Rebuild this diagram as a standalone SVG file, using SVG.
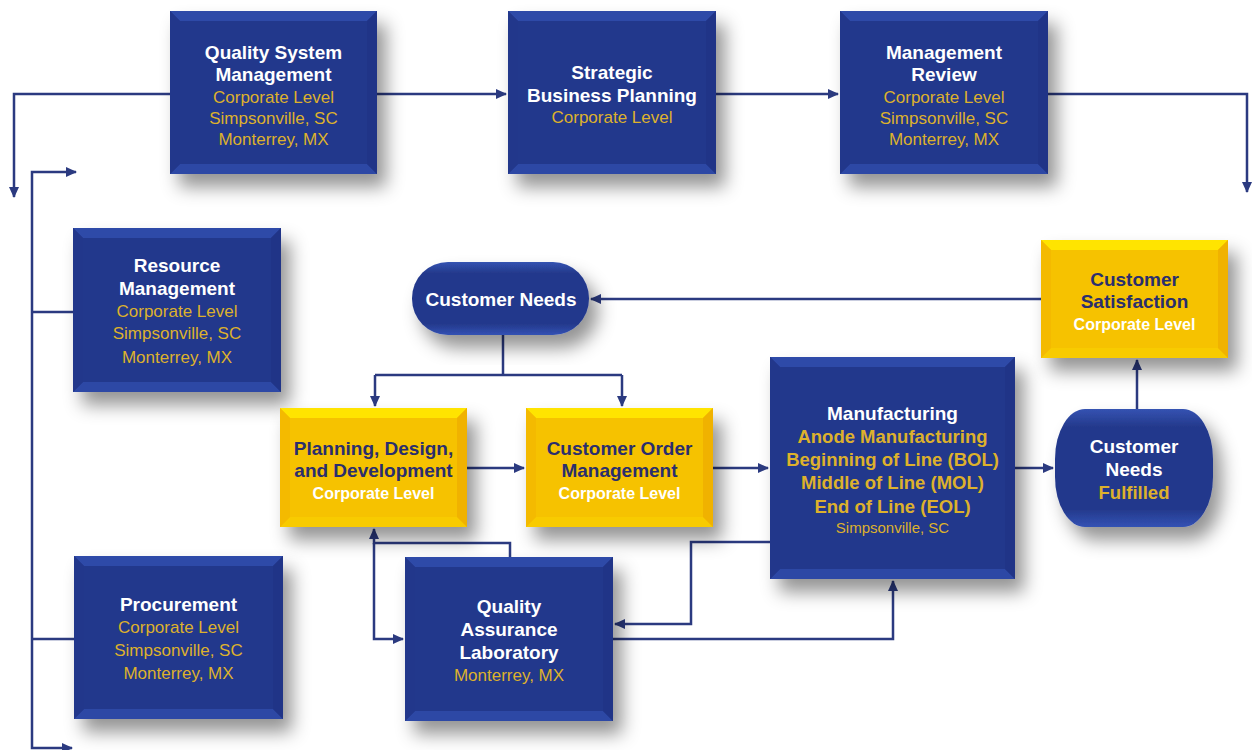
<svg xmlns="http://www.w3.org/2000/svg" width="1252" height="750" viewBox="0 0 1252 750">
<defs>
<filter id="sh" x="-20%" y="-20%" width="150%" height="160%">
<feDropShadow dx="9" dy="13" stdDeviation="9" flood-color="#000" flood-opacity="0.42"/>
</filter>
<linearGradient id="pillg" x1="0" y1="0" x2="0" y2="1">
<stop offset="0" stop-color="#3553B2"/>
<stop offset="0.15" stop-color="#24398C"/>
<stop offset="0.85" stop-color="#24398C"/>
<stop offset="1" stop-color="#3352B4"/>
</linearGradient>
<marker id="ah" markerUnits="userSpaceOnUse" markerWidth="11" markerHeight="10" refX="10" refY="5" orient="auto">
<path d="M0,0 L11,5 L0,10 z" fill="#2B3A80"/>
</marker>
<style>
.b{fill:#24398C}
.y{fill:#F6C200}
.bt{fill:#2E4AA8}.bb{fill:#2D48A5}.bl{fill:#22378B}.br{fill:#203487}
.yt{fill:#FFE400}.yb{fill:#F8CB00}.yl{fill:#F4BA00}.yr{fill:#F0B200}
.pill{fill:url(#pillg)}
text{font-family:"Liberation Sans",Arial,sans-serif;text-anchor:middle}
.t{font-size:19px;font-weight:bold;fill:#FFFFFF}
.s{font-size:17px;fill:#DDB12C}
.g{font-size:18.5px;font-weight:bold;fill:#DDB12C}
.sm{font-size:15px;fill:#DDB12C}
.yt1{font-size:19px;font-weight:bold;fill:#2A2E6E}
.ys{font-size:16px;font-weight:bold;fill:#FFFFFF}
.c{fill:none;stroke:#2B3A80;stroke-width:2.5}
</style>
</defs>
<rect width="1252" height="750" fill="#FFFFFF"/>

<g id="connectors">
<path class="c" d="M377,94 H506" marker-end="url(#ah)"/>
<path class="c" d="M716,94 H838" marker-end="url(#ah)"/>
<path class="c" d="M1048,94 H1247 V192" marker-end="url(#ah)"/>
<path class="c" d="M170,94 H14 V197" marker-end="url(#ah)"/>
<path class="c" d="M32,312 V172 H76" marker-end="url(#ah)"/>
<path class="c" d="M32,312 V748 H72" marker-end="url(#ah)"/>
<path class="c" d="M32,312 H73"/>
<path class="c" d="M32,639 H74"/>
<path class="c" d="M1041,299 H591" marker-end="url(#ah)"/>
<path class="c" d="M503,335 V375"/>
<path class="c" d="M375,375 H622"/>
<path class="c" d="M375,375 V406" marker-end="url(#ah)"/>
<path class="c" d="M622,375 V406" marker-end="url(#ah)"/>
<path class="c" d="M467,468 H524" marker-end="url(#ah)"/>
<path class="c" d="M713,468 H768" marker-end="url(#ah)"/>
<path class="c" d="M1015,468 H1053" marker-end="url(#ah)"/>
<path class="c" d="M1137,409 V360" marker-end="url(#ah)"/>
<path class="c" d="M510,557 V543 H374 V529" marker-end="url(#ah)"/>
<path class="c" d="M374,543 V639 H403" marker-end="url(#ah)"/>
<path class="c" d="M770,542 H691 V624 H615" marker-end="url(#ah)"/>
<path class="c" d="M613,639 H893 V581" marker-end="url(#ah)"/>
</g>

<g id="qsm">
<rect class="b" x="170" y="11" width="207" height="163" filter="url(#sh)"/>
<polygon class="bt" points="170,11 377,11 367,21 180,21"/>
<polygon class="bb" points="170,174 377,174 367,164 180,164"/>
<polygon class="bl" points="170,11 180,21 180,164 170,174"/>
<polygon class="br" points="377,11 367,21 367,164 377,174"/>
<text class="t" x="273.5" y="58.5">Quality System</text>
<text class="t" x="273.5" y="80.5">Management</text>
<text class="s" x="273.5" y="103">Corporate Level</text>
<text class="s" x="273.5" y="124">Simpsonville, SC</text>
<text class="s" x="273.5" y="145">Monterrey, MX</text>
</g>

<g id="sbp">
<rect class="b" x="508" y="11" width="208" height="163" filter="url(#sh)"/>
<polygon class="bt" points="508,11 716,11 706,21 518,21"/>
<polygon class="bb" points="508,174 716,174 706,164 518,164"/>
<polygon class="bl" points="508,11 518,21 518,164 508,174"/>
<polygon class="br" points="716,11 706,21 706,164 716,174"/>
<text class="t" x="612" y="78.5">Strategic</text>
<text class="t" x="612" y="101.5">Business Planning</text>
<text class="s" x="612" y="123">Corporate Level</text>
</g>

<g id="mr">
<rect class="b" x="840" y="11" width="208" height="163" filter="url(#sh)"/>
<polygon class="bt" points="840,11 1048,11 1038,21 850,21"/>
<polygon class="bb" points="840,174 1048,174 1038,164 850,164"/>
<polygon class="bl" points="840,11 850,21 850,164 840,174"/>
<polygon class="br" points="1048,11 1038,21 1038,164 1048,174"/>
<text class="t" x="944" y="58.5">Management</text>
<text class="t" x="944" y="80.5">Review</text>
<text class="s" x="944" y="103">Corporate Level</text>
<text class="s" x="944" y="124">Simpsonville, SC</text>
<text class="s" x="944" y="145">Monterrey, MX</text>
</g>

<g id="rm">
<rect class="b" x="73" y="228" width="208" height="164" filter="url(#sh)"/>
<polygon class="bt" points="73,228 281,228 271,238 83,238"/>
<polygon class="bb" points="73,392 281,392 271,382 83,382"/>
<polygon class="bl" points="73,228 83,238 83,382 73,392"/>
<polygon class="br" points="281,228 271,238 271,382 281,392"/>
<text class="t" x="177" y="271.5">Resource</text>
<text class="t" x="177" y="294.5">Management</text>
<text class="s" x="177" y="317">Corporate Level</text>
<text class="s" x="177" y="339">Simpsonville, SC</text>
<text class="s" x="177" y="363">Monterrey, MX</text>
</g>

<g id="pro">
<rect class="b" x="74" y="556" width="209" height="163" filter="url(#sh)"/>
<polygon class="bt" points="74,556 283,556 273,566 84,566"/>
<polygon class="bb" points="74,719 283,719 273,709 84,709"/>
<polygon class="bl" points="74,556 84,566 84,709 74,719"/>
<polygon class="br" points="283,556 273,566 273,709 283,719"/>
<text class="t" x="178.5" y="610.5">Procurement</text>
<text class="s" x="178.5" y="633">Corporate Level</text>
<text class="s" x="178.5" y="656">Simpsonville, SC</text>
<text class="s" x="178.5" y="679">Monterrey, MX</text>
</g>

<g id="cn">
<rect class="pill" x="412" y="262" width="177" height="73" rx="36" ry="36" filter="url(#sh)"/>
<text class="t" x="501" y="305.5">Customer Needs</text>
</g>

<g id="pdd">
<rect class="y" x="280" y="408" width="187" height="119" filter="url(#sh)"/>
<polygon class="yt" points="280,408 467,408 457,418 290,418"/>
<polygon class="yb" points="280,527 467,527 457,517 290,517"/>
<polygon class="yl" points="280,408 290,418 290,517 280,527"/>
<polygon class="yr" points="467,408 457,418 457,517 467,527"/>
<text class="yt1" x="373.5" y="454.5">Planning, Design,</text>
<text class="yt1" x="373.5" y="476.5">and Development</text>
<text class="ys" x="373.5" y="499">Corporate Level</text>
</g>

<g id="com">
<rect class="y" x="526" y="408" width="187" height="119" filter="url(#sh)"/>
<polygon class="yt" points="526,408 713,408 703,418 536,418"/>
<polygon class="yb" points="526,527 713,527 703,517 536,517"/>
<polygon class="yl" points="526,408 536,418 536,517 526,527"/>
<polygon class="yr" points="713,408 703,418 703,517 713,527"/>
<text class="yt1" x="619.5" y="454.5">Customer Order</text>
<text class="yt1" x="619.5" y="476.5">Management</text>
<text class="ys" x="619.5" y="499">Corporate Level</text>
</g>

<g id="mfg">
<rect class="b" x="770" y="357" width="245" height="222" filter="url(#sh)"/>
<polygon class="bt" points="770,357 1015,357 1005,367 780,367"/>
<polygon class="bb" points="770,579 1015,579 1005,569 780,569"/>
<polygon class="bl" points="770,357 780,367 780,569 770,579"/>
<polygon class="br" points="1015,357 1005,367 1005,569 1015,579"/>
<text class="t" x="892.5" y="419.5">Manufacturing</text>
<text class="g" x="892.5" y="442.5">Anode Manufacturing</text>
<text class="g" x="892.5" y="465.5">Beginning of Line (BOL)</text>
<text class="g" x="892.5" y="488.5">Middle of Line (MOL)</text>
<text class="g" x="892.5" y="512.5">End of Line (EOL)</text>
<text class="sm" x="892.5" y="532.5">Simpsonville, SC</text>
</g>

<g id="cs">
<rect class="y" x="1041" y="240" width="187" height="118" filter="url(#sh)"/>
<polygon class="yt" points="1041,240 1228,240 1218,250 1051,250"/>
<polygon class="yb" points="1041,358 1228,358 1218,348 1051,348"/>
<polygon class="yl" points="1041,240 1051,250 1051,348 1041,358"/>
<polygon class="yr" points="1228,240 1218,250 1218,348 1228,358"/>
<text class="yt1" x="1134.5" y="285.5">Customer</text>
<text class="yt1" x="1134.5" y="307.5">Satisfaction</text>
<text class="ys" x="1134.5" y="330">Corporate Level</text>
</g>

<g id="cnf">
<rect class="pill" x="1055" y="409" width="158" height="118" rx="30" ry="50" filter="url(#sh)"/>
<text class="t" x="1134" y="452.5">Customer</text>
<text class="t" x="1134" y="475.5">Needs</text>
<text class="g" x="1134" y="498.5">Fulfilled</text>
</g>

<g id="qa">
<rect class="b" x="405" y="557" width="208" height="164" filter="url(#sh)"/>
<polygon class="bt" points="405,557 613,557 603,567 415,567"/>
<polygon class="bb" points="405,721 613,721 603,711 415,711"/>
<polygon class="bl" points="405,557 415,567 415,711 405,721"/>
<polygon class="br" points="613,557 603,567 603,711 613,721"/>
<text class="t" x="509" y="612.5">Quality</text>
<text class="t" x="509" y="635.5">Assurance</text>
<text class="t" x="509" y="658.5">Laboratory</text>
<text class="s" x="509" y="681">Monterrey, MX</text>
</g>
</svg>
